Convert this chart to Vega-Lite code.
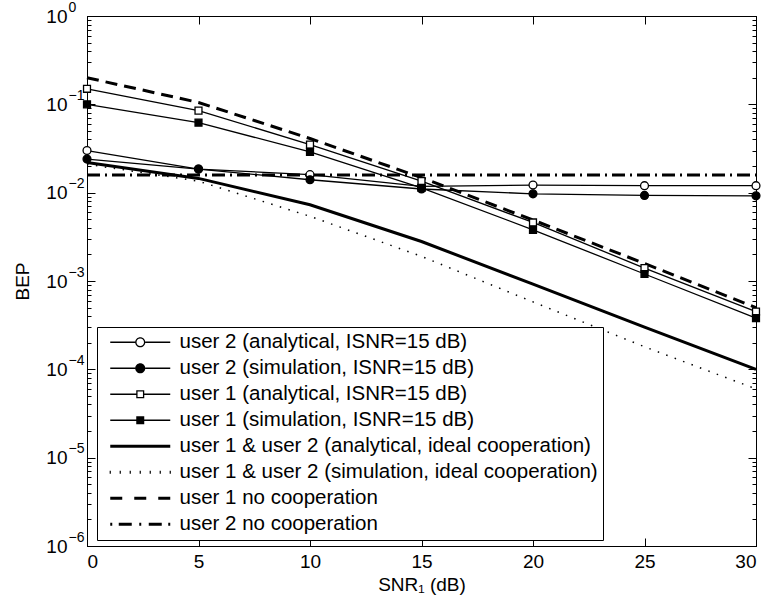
{
  "$schema": "https://vega.github.io/schema/vega-lite/v6.json",
  "width": 669,
  "height": 530,
  "autosize": {"type": "none"},
  "padding": {"left": 87, "top": 16, "right": 17, "bottom": 64},
  "background": "white",
  "config": {
    "font": "Liberation Sans",
    "view": {"stroke": "black", "strokeWidth": 1},
    "axis": {
      "domainColor": "black", "tickColor": "black", "labelColor": "black", "titleColor": "black",
      "labelFont": "Liberation Sans", "titleFont": "Liberation Sans",
      "labelFontSize": 19, "titleFontSize": 19, "titleFontWeight": "normal", "grid": false
    }
  },
  "datasets": {
    "curves": [
      {"series": "user 2 (analytical, ISNR=15 dB)", "snr": 0, "bep": 0.030},
      {"series": "user 2 (analytical, ISNR=15 dB)", "snr": 5, "bep": 0.0185},
      {"series": "user 2 (analytical, ISNR=15 dB)", "snr": 10, "bep": 0.016},
      {"series": "user 2 (analytical, ISNR=15 dB)", "snr": 15, "bep": 0.0118},
      {"series": "user 2 (analytical, ISNR=15 dB)", "snr": 20, "bep": 0.0122},
      {"series": "user 2 (analytical, ISNR=15 dB)", "snr": 25, "bep": 0.012},
      {"series": "user 2 (analytical, ISNR=15 dB)", "snr": 30, "bep": 0.012},
      {"series": "user 2 (simulation, ISNR=15 dB)", "snr": 0, "bep": 0.024},
      {"series": "user 2 (simulation, ISNR=15 dB)", "snr": 5, "bep": 0.0185},
      {"series": "user 2 (simulation, ISNR=15 dB)", "snr": 10, "bep": 0.014},
      {"series": "user 2 (simulation, ISNR=15 dB)", "snr": 15, "bep": 0.011},
      {"series": "user 2 (simulation, ISNR=15 dB)", "snr": 20, "bep": 0.0097},
      {"series": "user 2 (simulation, ISNR=15 dB)", "snr": 25, "bep": 0.0093},
      {"series": "user 2 (simulation, ISNR=15 dB)", "snr": 30, "bep": 0.0092},
      {"series": "user 1 (analytical, ISNR=15 dB)", "snr": 0, "bep": 0.15},
      {"series": "user 1 (analytical, ISNR=15 dB)", "snr": 5, "bep": 0.085},
      {"series": "user 1 (analytical, ISNR=15 dB)", "snr": 10, "bep": 0.035},
      {"series": "user 1 (analytical, ISNR=15 dB)", "snr": 15, "bep": 0.0135},
      {"series": "user 1 (analytical, ISNR=15 dB)", "snr": 20, "bep": 0.0046},
      {"series": "user 1 (analytical, ISNR=15 dB)", "snr": 25, "bep": 0.0014},
      {"series": "user 1 (analytical, ISNR=15 dB)", "snr": 30, "bep": 0.00045},
      {"series": "user 1 (simulation, ISNR=15 dB)", "snr": 0, "bep": 0.10},
      {"series": "user 1 (simulation, ISNR=15 dB)", "snr": 5, "bep": 0.062},
      {"series": "user 1 (simulation, ISNR=15 dB)", "snr": 10, "bep": 0.029},
      {"series": "user 1 (simulation, ISNR=15 dB)", "snr": 15, "bep": 0.0113},
      {"series": "user 1 (simulation, ISNR=15 dB)", "snr": 20, "bep": 0.0038},
      {"series": "user 1 (simulation, ISNR=15 dB)", "snr": 25, "bep": 0.0012},
      {"series": "user 1 (simulation, ISNR=15 dB)", "snr": 30, "bep": 0.00038},
      {"series": "user 1 & user 2 (analytical, ideal cooperation)", "snr": 0, "bep": 0.022},
      {"series": "user 1 & user 2 (analytical, ideal cooperation)", "snr": 5, "bep": 0.0145},
      {"series": "user 1 & user 2 (analytical, ideal cooperation)", "snr": 10, "bep": 0.0073},
      {"series": "user 1 & user 2 (analytical, ideal cooperation)", "snr": 15, "bep": 0.0028},
      {"series": "user 1 & user 2 (analytical, ideal cooperation)", "snr": 20, "bep": 0.00092},
      {"series": "user 1 & user 2 (analytical, ideal cooperation)", "snr": 25, "bep": 0.0003},
      {"series": "user 1 & user 2 (analytical, ideal cooperation)", "snr": 30, "bep": 0.0001},
      {"series": "user 1 & user 2 (simulation, ideal cooperation)", "snr": 0, "bep": 0.021},
      {"series": "user 1 & user 2 (simulation, ideal cooperation)", "snr": 5, "bep": 0.0135},
      {"series": "user 1 & user 2 (simulation, ideal cooperation)", "snr": 10, "bep": 0.0054},
      {"series": "user 1 & user 2 (simulation, ideal cooperation)", "snr": 15, "bep": 0.0019},
      {"series": "user 1 & user 2 (simulation, ideal cooperation)", "snr": 20, "bep": 0.00058},
      {"series": "user 1 & user 2 (simulation, ideal cooperation)", "snr": 25, "bep": 0.00018},
      {"series": "user 1 & user 2 (simulation, ideal cooperation)", "snr": 30, "bep": 0.00006},
      {"series": "user 1 no cooperation", "snr": 0, "bep": 0.2},
      {"series": "user 1 no cooperation", "snr": 5, "bep": 0.105},
      {"series": "user 1 no cooperation", "snr": 10, "bep": 0.041},
      {"series": "user 1 no cooperation", "snr": 15, "bep": 0.0148},
      {"series": "user 1 no cooperation", "snr": 20, "bep": 0.0049},
      {"series": "user 1 no cooperation", "snr": 25, "bep": 0.00158},
      {"series": "user 1 no cooperation", "snr": 30, "bep": 0.0005},
      {"series": "user 2 no cooperation", "snr": 0, "bep": 0.0158},
      {"series": "user 2 no cooperation", "snr": 5, "bep": 0.0158},
      {"series": "user 2 no cooperation", "snr": 10, "bep": 0.0158},
      {"series": "user 2 no cooperation", "snr": 15, "bep": 0.0158},
      {"series": "user 2 no cooperation", "snr": 20, "bep": 0.0158},
      {"series": "user 2 no cooperation", "snr": 25, "bep": 0.0158},
      {"series": "user 2 no cooperation", "snr": 30, "bep": 0.0158}
    ]
  },
  "data": {"name": "curves"},
  "resolve": {"axis": {"x": "independent", "y": "independent"}},
  "layer": [
    {
      "transform": [{"filter": {"field": "series", "oneOf": ["user 2 (analytical, ISNR=15 dB)", "user 2 (simulation, ISNR=15 dB)", "user 1 (analytical, ISNR=15 dB)", "user 1 (simulation, ISNR=15 dB)"]}}],
      "mark": {"type": "line", "color": "black", "strokeWidth": 1.3},
      "encoding": {
        "x": {"field": "snr", "type": "quantitative", "scale": {"domain": [0, 30], "nice": false, "zero": false},
          "axis": {"orient": "bottom", "values": [0, 5, 10, 15, 20, 25, 30], "tickSize": -8, "labelPadding": 14, "title": "SNR₁ (dB)", "titlePadding": 4}},
        "y": {"field": "bep", "type": "quantitative", "scale": {"type": "log", "domain": [0.000001, 1], "nice": false},
          "axis": {"orient": "left",
            "values": [0.000001,0.000002,0.000003,0.000004,0.000005,0.000006,0.000007,0.000008,0.000009,0.00001,0.00002,0.00003,0.00004,0.00005,0.00006,0.00007,0.00008,0.00009,0.0001,0.0002,0.0003,0.0004,0.0005,0.0006,0.0007,0.0008,0.0009,0.001,0.002,0.003,0.004,0.005,0.006,0.007,0.008,0.009,0.01,0.02,0.03,0.04,0.05,0.06,0.07,0.08,0.09,0.1,0.2,0.3,0.4,0.5,0.6,0.7,0.8,0.9,1],
            "tickSize": {"condition": {"test": "abs(log(datum.value)/LN10 - round(log(datum.value)/LN10)) < 0.01", "value": -8}, "value": -4},
            "labelExpr": "abs(log(datum.value)/LN10 - round(log(datum.value)/LN10)) < 0.01 ? '10' : ''",
            "labelPadding": 28, "title": "BEP", "titlePadding": 13}},
        "detail": {"field": "series"}
      }
    },
    {
      "mark": {"type": "point", "opacity": 0},
      "encoding": {
        "x": {"field": "snr", "type": "quantitative", "axis": null},
        "y": {"field": "bep", "type": "quantitative",
          "axis": {"orient": "left", "values": [0.000001, 0.00001, 0.0001, 0.001, 0.01, 0.1, 1],
            "ticks": false, "tickSize": 0, "domain": false, "labelAlign": "left", "labelPadding": 19, "labelOffset": -9,
            "labelFontSize": 14,
            "labelExpr": "round(log(datum.value)/LN10) == 0 ? '0' : '−' + (-round(log(datum.value)/LN10))",
            "title": null}}
      }
    },
    {
      "transform": [{"filter": {"field": "series", "equal": "user 1 & user 2 (analytical, ideal cooperation)"}}],
      "mark": {"type": "line", "color": "black", "strokeWidth": 3},
      "encoding": {"x": {"field": "snr", "type": "quantitative", "axis": null}, "y": {"field": "bep", "type": "quantitative", "axis": null}}
    },
    {
      "transform": [{"filter": {"field": "series", "equal": "user 1 & user 2 (simulation, ideal cooperation)"}}],
      "mark": {"type": "line", "color": "black", "strokeWidth": 1.5, "strokeDash": [1.5, 7.5]},
      "encoding": {"x": {"field": "snr", "type": "quantitative", "axis": null}, "y": {"field": "bep", "type": "quantitative", "axis": null}}
    },
    {
      "transform": [{"filter": {"field": "series", "equal": "user 1 no cooperation"}}],
      "mark": {"type": "line", "color": "black", "strokeWidth": 3, "strokeDash": [12, 7]},
      "encoding": {"x": {"field": "snr", "type": "quantitative", "axis": null}, "y": {"field": "bep", "type": "quantitative", "axis": null}}
    },
    {
      "transform": [{"filter": {"field": "series", "equal": "user 2 no cooperation"}}],
      "mark": {"type": "line", "color": "black", "strokeWidth": 3, "strokeDash": [13, 5, 2, 5]},
      "encoding": {"x": {"field": "snr", "type": "quantitative", "axis": null}, "y": {"field": "bep", "type": "quantitative", "axis": null}}
    },
    {
      "transform": [{"filter": {"field": "series", "equal": "user 2 (analytical, ISNR=15 dB)"}}],
      "mark": {"type": "point", "shape": "circle", "size": 62, "filled": true, "fill": "white", "stroke": "black", "strokeWidth": 1.3, "opacity": 1},
      "encoding": {"x": {"field": "snr", "type": "quantitative", "axis": null}, "y": {"field": "bep", "type": "quantitative", "axis": null}}
    },
    {
      "transform": [{"filter": {"field": "series", "equal": "user 2 (simulation, ISNR=15 dB)"}}],
      "mark": {"type": "point", "shape": "circle", "size": 62, "filled": true, "fill": "black", "stroke": "black", "strokeWidth": 1.3, "opacity": 1},
      "encoding": {"x": {"field": "snr", "type": "quantitative", "axis": null}, "y": {"field": "bep", "type": "quantitative", "axis": null}}
    },
    {
      "transform": [{"filter": {"field": "series", "equal": "user 1 (analytical, ISNR=15 dB)"}}],
      "mark": {"type": "point", "shape": "square", "size": 48, "filled": true, "fill": "white", "stroke": "black", "strokeWidth": 1.3, "opacity": 1},
      "encoding": {"x": {"field": "snr", "type": "quantitative", "axis": null}, "y": {"field": "bep", "type": "quantitative", "axis": null}}
    },
    {
      "transform": [{"filter": {"field": "series", "equal": "user 1 (simulation, ISNR=15 dB)"}}],
      "mark": {"type": "point", "shape": "square", "size": 48, "filled": true, "fill": "black", "stroke": "black", "strokeWidth": 1.3, "opacity": 1},
      "encoding": {"x": {"field": "snr", "type": "quantitative", "axis": null}, "y": {"field": "bep", "type": "quantitative", "axis": null}}
    },
    {
      "mark": {"type": "point", "size": 100, "filled": true, "opacity": 0},
      "encoding": {
        "x": {"field": "snr", "type": "quantitative",
          "axis": {"orient": "top", "values": [0, 5, 10, 15, 20, 25, 30], "tickSize": -8, "labels": false, "title": null}},
        "y": {"field": "bep", "type": "quantitative",
          "axis": {"orient": "right",
            "values": [0.000001,0.000002,0.000003,0.000004,0.000005,0.000006,0.000007,0.000008,0.000009,0.00001,0.00002,0.00003,0.00004,0.00005,0.00006,0.00007,0.00008,0.00009,0.0001,0.0002,0.0003,0.0004,0.0005,0.0006,0.0007,0.0008,0.0009,0.001,0.002,0.003,0.004,0.005,0.006,0.007,0.008,0.009,0.01,0.02,0.03,0.04,0.05,0.06,0.07,0.08,0.09,0.1,0.2,0.3,0.4,0.5,0.6,0.7,0.8,0.9,1],
            "tickSize": {"condition": {"test": "abs(log(datum.value)/LN10 - round(log(datum.value)/LN10)) < 0.01", "value": -8}, "value": -4},
            "labels": false, "title": null}},
        "shape": {"field": "series", "type": "nominal",
          "scale": {
            "domain": ["user 2 (analytical, ISNR=15 dB)", "user 2 (simulation, ISNR=15 dB)", "user 1 (analytical, ISNR=15 dB)", "user 1 (simulation, ISNR=15 dB)", "user 1 & user 2 (analytical, ideal cooperation)", "user 1 & user 2 (simulation, ideal cooperation)", "user 1 no cooperation", "user 2 no cooperation"],
            "range": [
              "M-6,-0.13H-1.01V0.13H-6ZM1.01,-0.13H6V0.13H1.01ZM-1.01,0A1.01,1.01,0,1,1,1.01,0A1.01,1.01,0,1,1,-1.01,0ZM-0.75,0A0.75,0.75,0,1,0,0.75,0A0.75,0.75,0,1,0,-0.75,0Z",
              "M-6,-0.13H-1.01V0.13H-6ZM1.01,-0.13H6V0.13H1.01ZM-1.01,0A1.01,1.01,0,1,1,1.01,0A1.01,1.01,0,1,1,-1.01,0Z",
              "M-6,-0.13H-0.8V0.13H-6ZM0.8,-0.13H6V0.13H0.8ZM-0.8,-0.8H0.8V0.8H-0.8ZM-0.54,-0.54V0.54H0.54V-0.54Z",
              "M-6,-0.13H-0.8V0.13H-6ZM0.8,-0.13H6V0.13H0.8ZM-0.8,-0.8H0.8V0.8H-0.8Z",
              "M-6,-0.3H6V0.3H-6Z",
              "M-6.12,-0.3H-5.88V0.3H-6.12ZM-4.12,-0.3H-3.88V0.3H-4.12ZM-2.12,-0.3H-1.88V0.3H-2.12ZM-0.12,-0.3H0.12V0.3H-0.12ZM1.88,-0.3H2.12V0.3H1.88ZM3.88,-0.3H4.12V0.3H3.88ZM5.88,-0.3H6.12V0.3H5.88Z",
              "M-6,-0.3H-3.6V0.3H-6ZM-1.2,-0.3H1.2V0.3H-1.2ZM3.6,-0.3H6V0.3H3.6Z",
              "M-6,-0.3H-5.6V0.3H-6ZM-4.3,-0.3H-1.7V0.3H-4.3ZM-0.2,-0.3H0.2V0.3H-0.2ZM1.7,-0.3H4.3V0.3H1.7ZM5.6,-0.3H6V0.3H5.6Z"
            ]},
          "legend": {"title": null, "orient": "none", "legendX": 10, "legendY": 311, "direction": "vertical",
            "padding": 5, "symbolOffset": 28, "labelOffset": 29, "rowPadding": 5,
            "labelFont": "Liberation Sans", "labelFontSize": 20.5, "labelColor": "black", "labelLimit": 700,
            "strokeColor": "black", "fillColor": "white", "symbolSize": 100, "symbolOpacity": 1}},
        "fill": {"field": "series", "type": "nominal",
          "scale": {
            "domain": ["user 2 (analytical, ISNR=15 dB)", "user 2 (simulation, ISNR=15 dB)", "user 1 (analytical, ISNR=15 dB)", "user 1 (simulation, ISNR=15 dB)", "user 1 & user 2 (analytical, ideal cooperation)", "user 1 & user 2 (simulation, ideal cooperation)", "user 1 no cooperation", "user 2 no cooperation"],
            "range": ["black", "black", "black", "black", "black", "black", "black", "black"]}}
      }
    }
  ]
}
